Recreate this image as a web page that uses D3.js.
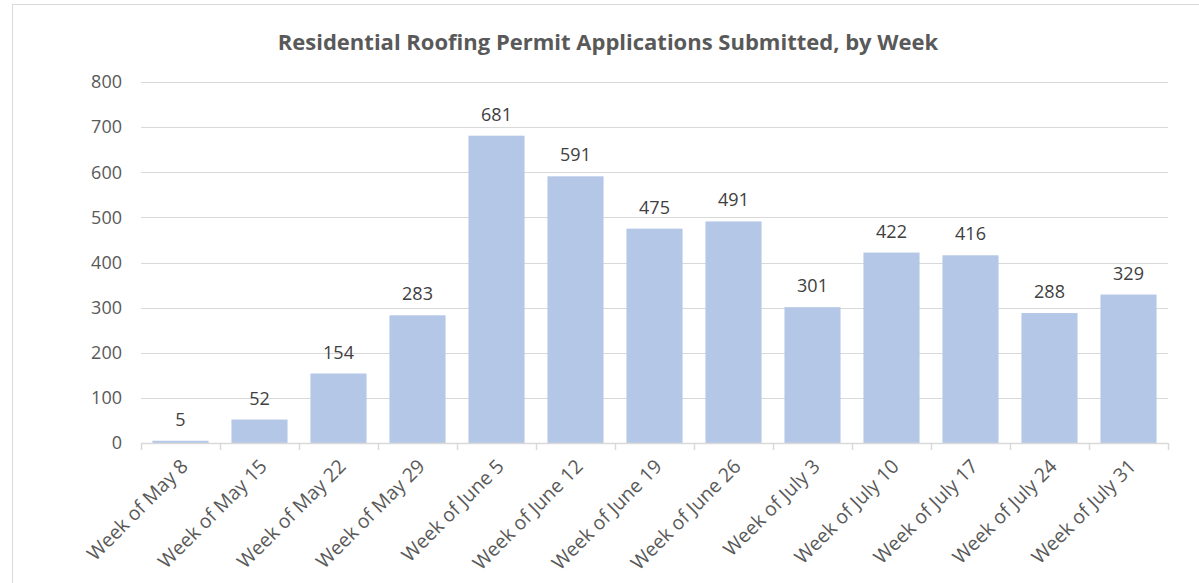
<!DOCTYPE html>
<html>
<head>
<meta charset="utf-8">
<script src="https://cdn.jsdelivr.net/npm/d3@7"></script>
<style>
    body { margin: 0; background: #fff; }
    svg text { font-family: "Open Sans", Calibri, Lato, sans-serif; }
</style>
</head>
<body>
<svg id="chart"></svg>
<script>
'use strict';

const WIDTH = 1199;
const HEIGHT = 583;

const weeks = ["Week of May 8", "Week of May 15", "Week of May 22", "Week of May 29",
               "Week of June 5", "Week of June 12", "Week of June 19", "Week of June 26",
               "Week of July 3", "Week of July 10", "Week of July 17", "Week of July 24",
               "Week of July 31"];
const permits = [5, 52, 154, 283, 681, 591, 475, 491, 301, 422, 416, 288, 329];
const yTicks = [0, 100, 200, 300, 400, 500, 600, 700, 800];

const svg = d3.select("svg#chart")
              .attr("width", WIDTH)
              .attr("height", HEIGHT);

// chart frame
svg.append("rect")
   .attr("x", 12.5).attr("y", 4.5)
   .attr("width", WIDTH).attr("height", HEIGHT)
   .attr("fill", "#fff")
   .attr("stroke", "#d9d9d9");

svg.append("text")
   .attr("x", 608).attr("y", 50)
   .attr("text-anchor", "middle")
   .attr("font-size", 22)
   .attr("font-weight", "bold")
   .attr("fill", "#595959")
   .text("Residential Roofing Permit Applications Submitted, by Week");

const xScale = d3.scaleBand()
                 .domain(weeks)
                 .range([141, 1168])
                 .paddingInner(0.29)
                 .paddingOuter(0.145);
const yScale = d3.scaleLinear()
                 .domain([0, 800])
                 .range([443, 82]);

// gridlines
svg.append("g")
   .selectAll("line")
   .data(yTicks.filter(d => d > 0))
   .enter()
   .append("line")
   .attr("x1", 141).attr("x2", 1168)
   .attr("y1", d => Math.round(yScale(d)) + 0.5)
   .attr("y2", d => Math.round(yScale(d)) + 0.5)
   .attr("stroke", "#d9d9d9")
   .attr("stroke-width", 1);

// y axis labels
const yAxis = d3.axisLeft(yScale).tickValues(yTicks).tickSize(0).tickPadding(0);
const gy = svg.append("g")
              .attr("transform", "translate(" + 122 + "," + 0 + ")")
              .call(yAxis);
gy.select(".domain").remove();
gy.selectAll("text")
  .attr("font-size", 18)
  .attr("font-family", "'Open Sans', sans-serif")
  .attr("fill", "#595959");

// bars
svg.append("g")
   .selectAll("rect")
   .data(permits)
   .enter()
   .append("rect")
   .attr("x", (d, i) => xScale(weeks[i]))
   .attr("y", d => yScale(d))
   .attr("width", xScale.bandwidth())
   .attr("height", d => yScale(0) - yScale(d))
   .attr("fill", "#b4c7e7");

// value labels
svg.append("g")
   .selectAll("text")
   .data(permits)
   .enter()
   .append("text")
   .attr("x", (d, i) => xScale(weeks[i]) + xScale.bandwidth() / 2)
   .attr("y", d => yScale(d) - 15)
   .attr("text-anchor", "middle")
   .attr("font-size", 18)
   .attr("fill", "#404040")
   .text(d => d);

// x axis with ticks at category boundaries
const step = xScale.step();
const boundaries = d3.range(weeks.length + 1).map(i => 141 + i * step);
const gx = svg.append("g");
gx.append("line")
  .attr("x1", 141).attr("x2", 1168)
  .attr("y1", 443.5).attr("y2", 443.5)
  .attr("stroke", "#d9d9d9")
  .attr("stroke-width", 1.5);
gx.selectAll("line.tick")
  .data(boundaries)
  .enter()
  .append("line")
  .attr("class", "tick")
  .attr("x1", d => Math.round(d) + 0.5).attr("x2", d => Math.round(d) + 0.5)
  .attr("y1", 443).attr("y2", 450)
  .attr("stroke", "#d9d9d9")
  .attr("stroke-width", 1.5);

gx.selectAll("text")
  .data(weeks)
  .enter()
  .append("text")
  .attr("transform", d => "translate(" + (xScale(d) + xScale.bandwidth() / 2 - 1) + "," + 458 + ") rotate(-45)")
  .attr("text-anchor", "end")
  .attr("dy", "0.7em")
  .attr("font-size", 19.5)
  .attr("fill", "#595959")
  .text(d => d);
</script>
</body>
</html>
